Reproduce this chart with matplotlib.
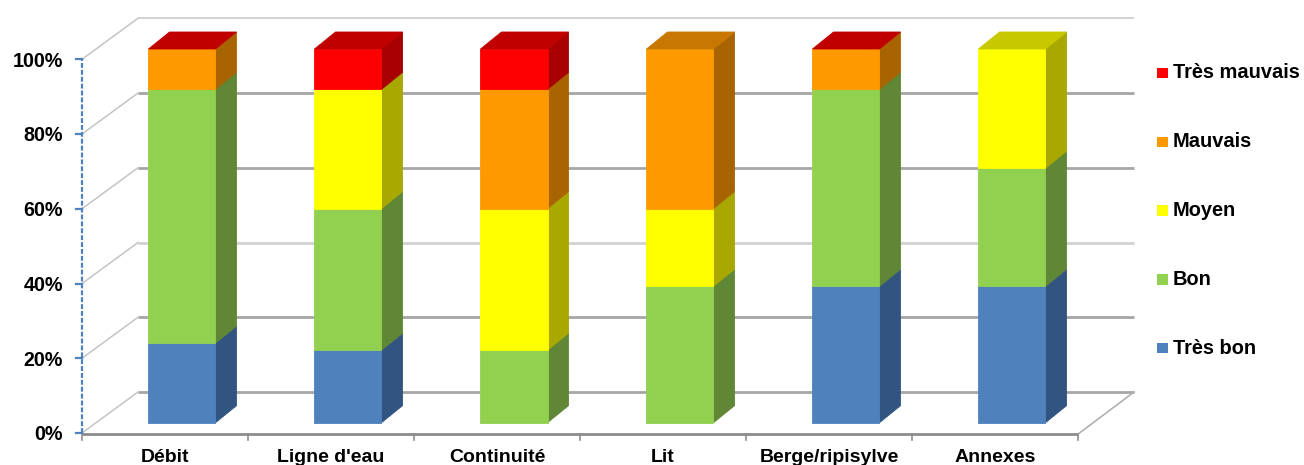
import numpy as np
import matplotlib
matplotlib.use("Agg")
import matplotlib.pyplot as plt
from matplotlib.patches import Polygon, Rectangle

# ---- data (% of each category) ----
categories = ["Débit", "Ligne d'eau", "Continuité", "Lit", "Berge/ripisylve", "Annexes"]
series_names = ["Très bon", "Bon", "Moyen", "Mauvais", "Très mauvais"]
tres_bon = [21.3, 19.4, 0.0, 0.0, 36.5, 36.5]
bon = [67.9, 37.9, 19.4, 36.5, 52.7, 31.6]
moyen = [0.0, 31.9, 37.9, 20.8, 0.0, 31.9]
mauvais = [10.8, 0.0, 31.9, 42.7, 10.8, np.nan]
tres_mauvais = [0.0, 10.8, 10.8, np.nan, 0.0, np.nan]
y_ticks = [0, 20, 40, 60, 80, 100]
y_tick_labels = ["0%", "20%", "40%", "60%", "80%", "100%"]

series = [tres_bon, bon, moyen, mauvais, tres_mauvais]
front_colors = ["#4F81BD", "#92D050", "#FFFF00", "#FF9900", "#FF0000"]
side_colors = ["#325481", "#5F8735", "#A8A800", "#A86400", "#A80000"]
top_colors = ["#3D6799", "#76A83E", "#C8C800", "#C87800", "#C00000"]

# ---- layout: one axes over the whole figure, x in category units, y in % ----
W, H, DPI = 1304, 465, 100
PX_CAT = 166.0       # pixels per category
PX_PCT = 3.737       # pixels per percent
X0_PX, Y0_PX = 82.0, 433.0   # front-left floor corner (pixels from left / top)

fig = plt.figure(figsize=(W / DPI, H / DPI), dpi=DPI)
ax = fig.add_axes([0, 0, 1, 1])
ax.set_xlim(-X0_PX / PX_CAT, (W - X0_PX) / PX_CAT)
ax.set_ylim(-(H - Y0_PX) / PX_PCT, Y0_PX / PX_PCT)
ax.axis("off")

n = len(categories)
WALL_DX = 56.0 / PX_CAT      # depth of the floor / side wall
WALL_DY = 41.0 / PX_PCT
BAR_FX = 17.0 / PX_CAT       # front face of bars, pushed into depth
BAR_FY = 10.3 / PX_PCT
BAR_DX = 21.0 / PX_CAT       # bar depth
BAR_DY = 17.0 / PX_PCT
BAR_W = 67.0 / PX_CAT

grid_dark = "#A6A6A6"
grid_light = "#D2D2D2"

# back wall gridlines
for v in y_ticks:
    col = grid_light if v in (40, 100) else grid_dark
    lw = 1.4 if v == 100 else 2.0
    ax.plot([WALL_DX, n + WALL_DX], [v + WALL_DY, v + WALL_DY],
            color=col, lw=lw, solid_capstyle="butt", zorder=1)
    # side wall diagonals
    ax.plot([0, WALL_DX], [v, v + WALL_DY], color="#C4C4C4", lw=1.1, zorder=1)

# floor: front edge, right edge, category ticks
ax.plot([0, n], [-0.3, -0.3], color="#8C8C8C", lw=2.0, solid_capstyle="butt", zorder=2)
ax.plot([n, n + WALL_DX], [-0.3, WALL_DY], color="#B0B0B0", lw=1.2, zorder=2)
for i in range(n + 1):
    ax.plot([i, i], [-0.3, -1.9], color="#8C8C8C", lw=1.2, zorder=2)

# value axis (dashed) with small ticks
ax.plot([0, 0], [0, 100], color="#4F81BD", lw=1.6, dashes=(2.2, 0.9), zorder=3)
for v, lab in zip(y_ticks, y_tick_labels):
    ax.plot([-6 / PX_CAT, 0], [v, v], color="#4F81BD", lw=1.6, zorder=3)
    ax.text(-19 / PX_CAT, v - 0.5, lab, ha="right", va="center",
            fontsize=14.2, fontweight="bold", family="Liberation Sans", color="#000000")

# category labels
for i, lab in enumerate(categories):
    ax.text(i + 0.5, -4.2, lab, ha="center", va="top",
            fontsize=14, fontweight="bold", family="Liberation Sans", color="#000000")


def face(pts, color):
    ax.add_patch(Polygon(pts, closed=True, facecolor=color, edgecolor=color,
                         lw=0.6, joinstyle="miter", zorder=5))


# 3-D stacked bars
for i in range(n):
    xl = i + 0.5 + BAR_FX - BAR_W / 2
    xr = xl + BAR_W
    base = 0.0
    top_col = None
    for s, vals in enumerate(series):
        v = vals[i]
        if np.isnan(v):
            continue
        top_col = top_colors[s]
        y0, y1 = base + BAR_FY, base + v + BAR_FY
        base += v
        if v <= 0:
            continue
        face([[xr, y0], [xr + BAR_DX, y0 + BAR_DY], [xr + BAR_DX, y1 + BAR_DY], [xr, y1]],
             side_colors[s])
        face([[xl, y0], [xr, y0], [xr, y1], [xl, y1]], front_colors[s])
    yt = base + BAR_FY
    face([[xl, yt], [xl + BAR_DX, yt + BAR_DY], [xr + BAR_DX, yt + BAR_DY], [xr, yt]],
         top_col)

# legend (top entry = last series)
leg_x_px, leg_y0_px, leg_step_px, sq = 1157, 73, 68.8, 10.5
for k, s in enumerate(reversed(range(len(series_names)))):
    yc = leg_y0_px + k * leg_step_px
    fig.patches.append(Rectangle((leg_x_px / W, 1 - (yc + sq / 2) / H), sq / W, sq / H,
                                 transform=fig.transFigure, facecolor=front_colors[s],
                                 edgecolor="none"))
    fig.text((leg_x_px + 16) / W, 1 - yc / H, series_names[s], ha="left", va="center",
             fontsize=14.4, fontweight="bold", family="Liberation Sans", color="#000000")

fig.savefig("out.png", dpi=DPI, facecolor="white")
